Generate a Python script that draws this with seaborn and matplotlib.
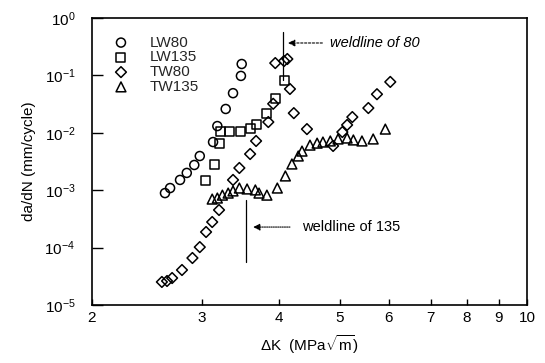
import numpy as np
import pandas as pd
import matplotlib
matplotlib.use("Agg")
import matplotlib.pyplot as plt
import seaborn as sns

# ---- data ----
lw80_dk = [2.62, 2.67, 2.77, 2.84, 2.92, 2.98, 3.13, 3.18, 3.28, 3.37, 3.47, 3.48]
lw80_da = [8.9e-4, 1.09e-3, 1.51e-3, 2.0e-3, 2.75e-3, 3.94e-3, 6.9e-3, 1.31e-2,
           2.6e-2, 4.9e-2, 9.8e-2, 0.158]

lw135_dk = [3.04, 3.15, 3.20, 3.22, 3.33, 3.47, 3.60, 3.67, 3.82, 3.94, 4.07]
lw135_da = [1.45e-3, 2.86e-3, 6.4e-3, 1.07e-2, 1.07e-2, 1.07e-2, 1.21e-2, 1.42e-2,
            2.2e-2, 4.0e-2, 8.0e-2]

tw80_dk = [2.59, 2.64, 2.69, 2.79, 2.90, 2.98, 3.05, 3.12, 3.20, 3.37, 3.45, 3.59,
           3.67, 3.84, 3.91, 3.94, 4.07, 4.12, 4.16, 4.22, 4.43, 4.88, 5.05, 5.14,
           5.24, 5.56, 5.74, 6.03]
tw80_da = [2.52e-5, 2.62e-5, 2.95e-5, 4.07e-5, 6.59e-5, 1.02e-4, 1.87e-4, 2.79e-4,
           4.52e-4, 1.51e-3, 2.44e-3, 4.27e-3, 7.2e-3, 1.54e-2, 3.2e-2, 0.164,
           0.178, 0.193, 5.8e-2, 2.2e-2, 1.16e-2, 5.9e-3, 1.03e-2, 1.37e-2,
           1.88e-2, 2.7e-2, 4.7e-2, 7.7e-2]

tw135_dk = [3.12, 3.18, 3.24, 3.31, 3.37, 3.45, 3.55, 3.66, 3.71, 3.82, 3.97, 4.09,
            4.19, 4.29, 4.35, 4.48, 4.60, 4.70, 4.83, 4.97, 5.14, 5.26, 5.43, 5.66,
            5.92]
tw135_da = [7.0e-4, 7.3e-4, 8.2e-4, 8.9e-4, 9.7e-4, 1.09e-3, 1.05e-3, 1.01e-3,
            8.9e-4, 8.2e-4, 1.09e-3, 1.77e-3, 2.86e-3, 3.94e-3, 4.8e-3, 6.1e-3,
            6.6e-3, 6.9e-3, 7.2e-3, 7.8e-3, 8.1e-3, 7.5e-3, 7.2e-3, 7.8e-3, 1.16e-2]

series_names = ["LW80", "LW135", "TW80", "TW135"]
series_markers = ["o", "s", "D", "^"]

x_ticks = [2, 3, 4, 5, 6, 7, 8, 9, 10]
x_ticklabels = ["2", "3", "4", "5", "6", "7", "8", "9", "10"]
y_ticks = [1e-5, 1e-4, 1e-3, 1e-2, 1e-1, 1e0]
y_ticklabels = [r"$10^{-5}$", r"$10^{-4}$", r"$10^{-3}$", r"$10^{-2}$",
                r"$10^{-1}$", r"$10^{0}$"]

# annotation anchors (data coords)
weld80_x = 4.06
weld80_y = (0.083, 0.57)
weld80_arrow = ((4.13, 0.367), (4.69, 0.367))
weld80_text = (4.83, 0.367)
weld135_x = 3.54
weld135_y = (5.6e-5, 6.7e-4)
weld135_arrow = ((3.63, 2.28e-4), (4.16, 2.28e-4))
weld135_text = (4.35, 2.28e-4)

frames = []
for name, dk, da in [("LW80", lw80_dk, lw80_da), ("LW135", lw135_dk, lw135_da),
                     ("TW80", tw80_dk, tw80_da), ("TW135", tw135_dk, tw135_da)]:
    frames.append(pd.DataFrame({"dK": dk, "dadN": da, "series": name}))
df = pd.concat(frames, ignore_index=True)

sns.set_theme(style="ticks")
plt.rcParams["font.family"] = ["Liberation Sans", "DejaVu Sans"]
plt.rcParams["mathtext.fontset"] = "custom"
plt.rcParams["mathtext.rm"] = "Liberation Sans"
plt.rcParams["mathtext.it"] = "Liberation Sans:italic"
plt.rcParams["mathtext.bf"] = "Liberation Sans:bold"

fig = plt.figure(figsize=(5.45, 3.63), dpi=100)
ax = fig.add_axes([92 / 545, 1 - 305 / 363, (527 - 92) / 545, (305 - 18) / 363])

sizes = {"LW80": 42, "LW135": 42, "TW80": 30, "TW135": 50}
for name, mk in zip(series_names, series_markers):
    sub = df[df["series"] == name]
    sns.scatterplot(data=sub, x="dK", y="dadN", marker=mk, s=sizes[name],
                    facecolors="none", edgecolors="black", linewidth=1.1,
                    ax=ax, label=name, zorder=3)

ax.set_xscale("log")
ax.set_yscale("log")
ax.set_xlim(2, 10)
ax.set_ylim(1e-5, 1)
ax.xaxis.set_minor_locator(matplotlib.ticker.NullLocator())
ax.set_xticks(x_ticks)
ax.set_xticklabels(x_ticklabels)
ax.yaxis.set_minor_locator(matplotlib.ticker.NullLocator())
ax.set_yticks(y_ticks)
ax.set_yticklabels(y_ticklabels)

for s in ax.spines.values():
    s.set_visible(True)
    s.set_linewidth(1.2)
    s.set_color("black")
ax.tick_params(axis="x", direction="in", length=4, width=1, pad=4,
               labelsize=11, colors="black")
ax.tick_params(axis="y", direction="in", length=8, width=1, pad=12,
               labelsize=11, colors="black")

ax.set_xlabel(r"$\Delta$K  (MPa$\sqrt{\mathrm{m}}$)", fontsize=11, labelpad=6,
              color="black")
ax.set_ylabel("da/dN (mm/cycle)", fontsize=11, labelpad=6, color="black")

# weldline annotations
ax.plot([weld80_x, weld80_x], list(weld80_y), color="black", lw=0.9, zorder=2)
ax.annotate("", xy=weld80_arrow[0], xytext=weld80_arrow[1],
            arrowprops=dict(arrowstyle="-|>", color="black", lw=0.8,
                            linestyle=(0, (2, 1.5)), mutation_scale=10,
                            shrinkA=0, shrinkB=0))
ax.text(*weld80_text, "weldline of 80", fontsize=10.5, style="italic",
        va="center", ha="left", color="black")

ax.plot([weld135_x, weld135_x], list(weld135_y), color="black", lw=0.9, zorder=2)
ax.annotate("", xy=weld135_arrow[0], xytext=weld135_arrow[1],
            arrowprops=dict(arrowstyle="-|>", color="black", lw=0.8,
                            linestyle=(0, (1, 1)), mutation_scale=10,
                            shrinkA=0, shrinkB=0))
ax.text(*weld135_text, "weldline of 135", fontsize=10.5,
        va="center", ha="left", color="black")

leg = ax.legend(loc="upper left", bbox_to_anchor=(0.035, 0.96), frameon=False,
                fontsize=11, handletextpad=1.4, labelspacing=0.05,
                borderaxespad=0, handlelength=1.0)

fig.savefig("out.png", dpi=100)
